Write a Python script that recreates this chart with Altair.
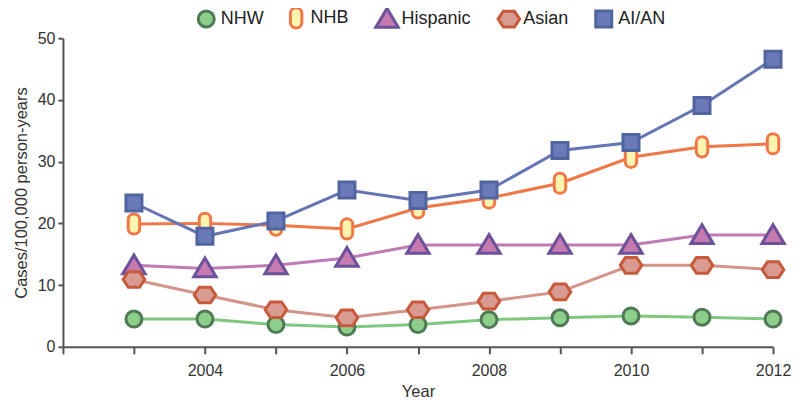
import altair as alt
import pandas as pd

years = [2003, 2004, 2005, 2006, 2007, 2008, 2009, 2010, 2011, 2012]
series = ["NHW", "NHB", "Hispanic", "Asian", "AI/AN"]
nhw = [4.5, 4.5, 3.6, 3.2, 3.6, 4.4, 4.7, 5.0, 4.8, 4.5]
nhb = [19.9, 20.0, 19.7, 19.1, 22.5, 24.1, 26.5, 30.7, 32.4, 32.9]
hispanic = [13.2, 12.7, 13.2, 14.4, 16.5, 16.5, 16.5, 16.5, 18.1, 18.1]
asian = [10.9, 8.4, 6.0, 4.7, 6.0, 7.4, 8.9, 13.2, 13.2, 12.5]
aian = [23.3, 17.9, 20.4, 25.4, 23.7, 25.4, 31.8, 33.1, 39.1, 46.6]

line_colors = ["#7fc97f", "#f07848", "#c07ab4", "#d4948a", "#6474b4"]
fill_colors = ["#8dcf8a", "#fff3b0", "#c77ab0", "#d99a92", "#6a7ab8"]
stroke_colors = ["#4f7a55", "#f07848", "#6b529a", "#c85a3c", "#5064a0"]

pill = ("M-0.72,-0.55 C-0.72,-1.5 0.72,-1.5 0.72,-0.55 L0.72,0.55 "
        "C0.72,1.5 -0.72,1.5 -0.72,0.55 Z")
hexagon = "M-1.35,0 L-0.7,-0.98 L0.7,-0.98 L1.35,0 L0.7,0.98 L-0.7,0.98 Z"
triangle = "M0,-1.3 L1.4,1.05 L-1.4,1.05 Z"
shapes = ["circle", pill, triangle, hexagon, "square"]

rows = []
for name, vals in zip(series, [nhw, nhb, hispanic, asian, aian]):
    for y, v in zip(years, vals):
        rows.append({"Year": y, "Value": v, "Group": name})
df = pd.DataFrame(rows)

x_enc = alt.X("Year:Q",
              scale=alt.Scale(domain=[2002, 2012], nice=False, zero=False),
              axis=alt.Axis(values=list(range(2002, 2013)),
                            labelExpr="datum.value % 2 == 0 && datum.value > 2002 ? datum.value + '' : ''",
                            grid=False, title="Year", tickSize=7, labelPadding=9,
                            labelFlush=False, titlePadding=5))
y_enc = alt.Y("Value:Q",
              scale=alt.Scale(domain=[0, 50], nice=False),
              axis=alt.Axis(values=[0, 10, 20, 30, 40, 50], grid=False,
                            title="Cases/100,000 person-years", tickSize=5,
                            labelPadding=3, titlePadding=8))

legend = alt.Legend(orient="none", legendX=134, legendY=-30, direction="horizontal")

lines = alt.Chart(df).mark_line(strokeWidth=3).encode(
    x=x_enc, y=y_enc,
    color=alt.Color("Group:N", scale=alt.Scale(domain=series, range=line_colors), legend=None),
    detail="Group:N",
)

points = alt.Chart(df).mark_point(filled=True, size=256, strokeWidth=3, opacity=1).encode(
    x=x_enc, y=y_enc,
    fill=alt.Fill("Group:N", scale=alt.Scale(domain=series, range=fill_colors), title=None, legend=legend),
    stroke=alt.Stroke("Group:N", scale=alt.Scale(domain=series, range=stroke_colors), title=None, legend=legend),
    shape=alt.Shape("Group:N", scale=alt.Scale(domain=series, range=shapes), title=None, legend=legend),
)

chart = alt.layer(lines, points).resolve_scale(color="independent").properties(
    width=711, height=309,
    autosize=alt.AutoSizeParams(type="none"),
    padding={"left": 55, "top": 30, "right": 19, "bottom": 52},
).configure_view(stroke=None).configure_axis(
    domainColor="#555555", domainWidth=2, tickColor="#555555", tickWidth=2,
    labelFont="Liberation Sans", labelFontSize=16, labelColor="#333333",
    titleFont="Liberation Sans", titleFontSize=16.5, titleFontWeight="normal",
    titleColor="#333333",
).configure_legend(
    labelFont="Liberation Sans",
    labelFontSize=18, labelColor="#222222", symbolSize=256, symbolStrokeWidth=3,
    columnPadding=20, symbolOpacity=1, padding=0, labelOffset=5,
)

chart.save("out.html", embed_options={"renderer": "svg", "actions": False})
